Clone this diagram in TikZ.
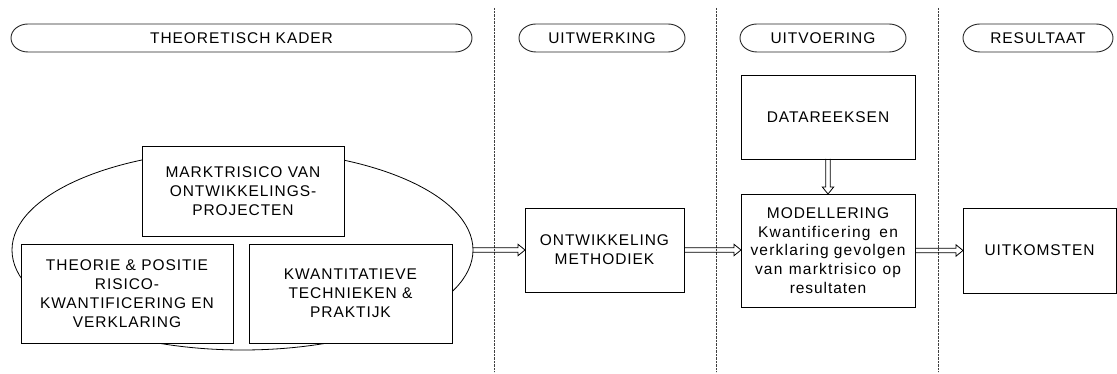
\documentclass[tikz,border=0pt]{standalone}
\usepackage{fontspec}
\setmainfont{Liberation Sans}[LetterSpace=6]
\newfontfamily\widefont{Liberation Sans}[LetterSpace=8]
\usetikzlibrary{shapes.geometric,calc}
\tikzset{
  box/.style={draw=black, line width=0.9pt, fill=white, rectangle, inner sep=0pt, outer sep=0pt, align=center, font=\fontsize{15.5}{18.8}\selectfont},
  hdr/.style={rectangle, inner sep=0pt, outer sep=0pt, minimum height=28pt, font=\fontsize{15.5}{18.8}\selectfont},
  pillline/.style={draw=black!85, line width=0.9pt},
  divider/.style={draw=black!75, line width=1pt, dash pattern=on 0.8pt off 0.6pt},
  hollow/.style={draw=black, line width=0.8pt, line join=miter},
}
\newcommand\pillpath[1]{%
  \draw[pillline] ([xshift=17pt]#1.north west) -- ([xshift=-17pt]#1.north east)
    arc[start angle=90,end angle=-90,x radius=17pt,y radius=14pt]
    -- ([xshift=17pt]#1.south west)
    arc[start angle=270,end angle=90,x radius=17pt,y radius=14pt] -- cycle;}
\begin{document}
\begin{tikzpicture}[x=1pt,y=1pt]
\useasboundingbox (0,0) rectangle (1117,374);
\fill[white] (0,0) rectangle (1117,374);
% dividers
\coordinate (d1t) at (494,366); \coordinate (d1b) at (494,2);
\coordinate (d2t) at (716,366); \coordinate (d2b) at (716,2);
\coordinate (d3t) at (938,366); \coordinate (d3b) at (938,2);
\draw[divider] (d1t) -- (d1b);
\draw[divider] (d2t) -- (d2b);
\draw[divider] (d3t) -- (d3b);
% headers
\node[hdr, minimum width=461pt] (h1) at (241.5,336) {THEORETISCH KADER};
\node[hdr, minimum width=166pt] (h2) at (602,336) {UITWERKING};
\node[hdr, minimum width=166pt] (h3) at (823,336) {UITVOERING};
\node[hdr, minimum width=150pt] (h4) at (1038,336) {RESULTAAT};
\pillpath{h1}\pillpath{h2}\pillpath{h3}\pillpath{h4}
% ellipse
\node[ellipse, draw=black, line width=0.8pt, minimum width=461pt, minimum height=200pt, inner sep=0pt, outer sep=0pt] (ell) at (242.5,124) {};
% boxes
\node[box, minimum width=202pt, minimum height=90pt] (mark) at (243,183) {MARKTRISICO VAN\\ONTWIKKELINGS-\\PROJECTEN};
\node[box, minimum width=212pt, minimum height=99pt] (theo) at (127,80.5) {THEORIE \& POSITIE\\RISICO-\\KWANTIFICERING EN\\VERKLARING};
\node[box, minimum width=203pt, minimum height=99pt] (kwan) at (350.5,80.5) {KWANTITATIEVE\\TECHNIEKEN \&\\PRAKTIJK};
\node[box, minimum width=159pt, minimum height=84pt] (ontw) at (604.5,124) {ONTWIKKELING\\METHODIEK};
\node[box, minimum width=174pt, minimum height=84pt] (data) at (828,257) {DATAREEKSEN};
\node[box, minimum width=174pt, minimum height=113pt] (mod) at (828,123.5) {MODELLERING\\{\widefont\makebox[140pt][s]{Kwantificering en}}\\{\widefont\makebox[155pt][s]{verklaring gevolgen}}\\{\widefont\makebox[146pt][s]{van marktrisico op}}\\resultaten};
\node[box, minimum width=153pt, minimum height=85pt] (uitk) at (1039.5,123.5) {UITKOMSTEN};
% hollow arrows
\draw[hollow] let \p1=(ell.east), \p2=(ontw.west) in
  (\x1,\y2+2.3pt) -- (\x2-7pt,\y2+2.3pt) -- (\x2-7pt,\y2+5.7pt) -- (\x2,\y2) -- (\x2-7pt,\y2-5.7pt) -- (\x2-7pt,\y2-2.3pt) -- (\x1,\y2-2.3pt);
\draw[hollow] let \p1=(ontw.east), \p2=(mod.west) in
  (\x1,\y1+2.3pt) -- (\x2-7pt,\y1+2.3pt) -- (\x2-7pt,\y1+5.7pt) -- (\x2,\y1) -- (\x2-7pt,\y1-5.7pt) -- (\x2-7pt,\y1-2.3pt) -- (\x1,\y1-2.3pt);
\draw[hollow] let \p1=(mod.east), \p2=(uitk.west) in
  (\x1,\y2+2.3pt) -- (\x2-7pt,\y2+2.3pt) -- (\x2-7pt,\y2+5.7pt) -- (\x2,\y2) -- (\x2-7pt,\y2-5.7pt) -- (\x2-7pt,\y2-2.3pt) -- (\x1,\y2-2.3pt);
\draw[hollow] let \p1=(data.south), \p2=(mod.north) in
  (\x1-2.3pt,\y1) -- (\x1-2.3pt,\y2+7pt) -- (\x1-5.7pt,\y2+7pt) -- (\x1,\y2) -- (\x1+5.7pt,\y2+7pt) -- (\x1+2.3pt,\y2+7pt) -- (\x1+2.3pt,\y1);
\end{tikzpicture}
\end{document}
